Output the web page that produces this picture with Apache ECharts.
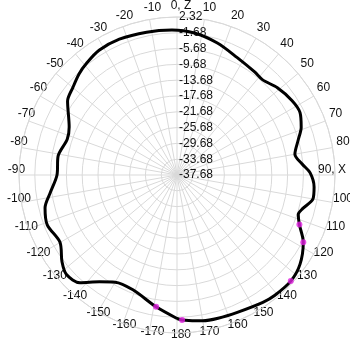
<!DOCTYPE html>
<html><head><meta charset="utf-8">
<script src="https://cdn.jsdelivr.net/npm/echarts@6/dist/echarts.min.js"></script>
<style>html,body{margin:0;padding:0;background:#fff}#c{width:350px;height:350px}</style>
</head><body><div id="c"></div>
<script>
// Pattern (angle in degrees, gain in dB)
const angles = [-180,-171,-159,-150,-144,-138,-132,-127,-120,-111,-104,-98,-90,-81,-72,-66,-56,-50,-44,-39,-32,-23,-12,-2,7,17,27,37,42,49,57,63,69,74,80,85,89,95,100,105,108,112,118,126,133,141,146,156,164,170,178,180];
const gains  = [-1.35,-3.88,-6.54,-6.36,-4.26,-0.97,-0.03,-1.22,-3.5,-2.49,-3.25,-5.27,-7.3,-7.2,-8.46,-7.8,-4.26,-3.25,-2.03,-1.3,-0.46,-0.33,-0.71,-0.97,-1.47,-2.74,-4.26,-5.02,-5.27,-4.0,-3.0,-2.74,-4.0,-5.78,-7.37,-5.88,-4.0,-2.84,-2.74,-4.76,-5.4,-4.26,-1.47,0.8,1.7,1.57,1.2,0.3,0.05,-0.2,-0.97,-1.35];
// Marked points
const markAngles = [-171,112,118,133,178];
const markGains  = [-3.88,-4.26,-1.47,1.7,-0.97];
// Radial tick labels
const radialMin = -37.68, radialMax = 2.32, radialStep = 4;
const angleNames = {0:'0, Z', 90:'90, X'};

const lineData = angles.map((a,i)=>[gains[i], (a+360)%360]);
const markData = markAngles.map((a,i)=>[markGains[i], (a+360)%360]);
const angleFmt = v=>{
  if(v===360) return '';
  const t = angleNames[v]!==undefined ? angleNames[v] : (v>180? String(v-360): String(v));
  return (v===90 ? '{r|' : '{c|') + t + '}';
};
const lblFont = {color:'#111', fontSize:12, fontFamily:'Liberation Sans'};

const chart = echarts.init(document.getElementById('c'), null, {renderer:'canvas'});
chart.setOption({
  animation:false,
  polar:[{center:[177,175], radius:158},{center:[181,170], radius:150}],
  angleAxis:[{
    polarIndex:0, type:'value', min:0, max:360, interval:10, startAngle:90, clockwise:true,
    axisLine:{lineStyle:{color:'#d9d9d9', width:1}},
    axisTick:{show:false}, axisLabel:{show:false},
    splitLine:{show:true, lineStyle:{color:'#d9d9d9', width:1}}
  },{
    polarIndex:1, type:'value', min:0, max:360, interval:10, startAngle:90, clockwise:true,
    axisLine:{show:false}, axisTick:{show:false}, splitLine:{show:false},
    axisLabel:{margin:14, formatter:angleFmt,
      rich:{
        c:Object.assign({width:1, height:1, lineHeight:1, align:'center', verticalAlign:'middle'}, lblFont),
        r:Object.assign({width:1, height:1, lineHeight:1, align:'right', verticalAlign:'middle'}, lblFont)
      }}
  }],
  radiusAxis:[{
    polarIndex:0, type:'value', min:radialMin, max:radialMax, interval:radialStep,
    axisLine:{show:false}, axisTick:{show:false},
    splitLine:{show:true, lineStyle:{color:'#d9d9d9', width:1}},
    axisLabel:Object.assign({align:'left', margin:-2, formatter:v=>v.toFixed(2)}, lblFont)
  },{
    polarIndex:1, type:'value', min:0, max:1, show:false
  }],
  series:[
    {type:'line', coordinateSystem:'polar', polarIndex:0, data:lineData, smooth:0.3, symbol:'none',
     lineStyle:{color:'#000', width:3}, z:3},
    {type:'scatter', coordinateSystem:'polar', polarIndex:0, data:markData, symbol:'circle', symbolSize:6,
     itemStyle:{color:'#e020e0'}, z:4}
  ]
});
</script></body></html>
